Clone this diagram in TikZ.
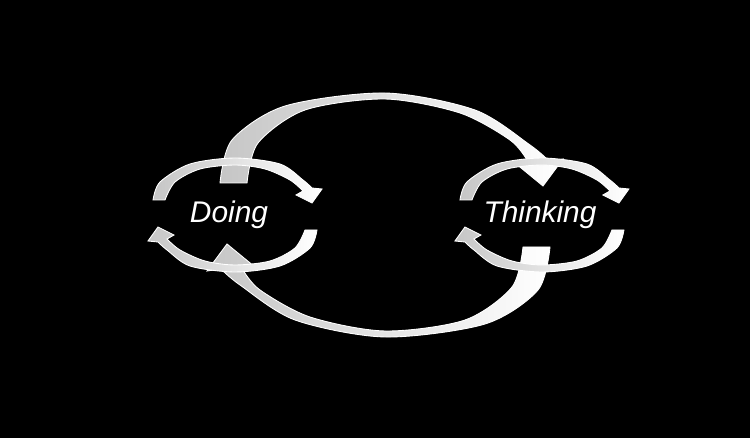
\documentclass[tikz,border=0pt]{standalone}
\usepackage{fontspec}
\setmainfont{Liberation Sans}
\usetikzlibrary{positioning}

% one curved arrow: light grey tail, white head
\newcommand{\bigbend}{%
  \shade[bendarrow] plot[smooth] coordinates {(220,183) (232,140) (285,106) (385,93) (475,110) (530,145) (549,161)}
    -- (563,159) -- (543,186) -- (515,163) -- (527,160)
    -- plot[smooth] coordinates {(527,160) (510,140) (460,113) (385,99) (305,110) (258,143) (247,183)} -- cycle;}
\newcommand{\smallbend}{%
  \shade[bendarrow] plot[smooth] coordinates {(153,200) (160,182) (190,164) (235,158) (280,164) (303,180) (312,188)}
    -- (322,189) -- (312,203) -- (296,195) -- (303,191)
    -- plot[smooth] coordinates {(303,191) (290,180) (265,169) (235,165) (200,169) (175,182) (165,200)} -- cycle;}

\begin{document}
\begin{tikzpicture}[x=0.02cm, y=-0.02cm,
    bendarrow/.style={left color=gray!45, right color=white, draw=white, line width=0.5pt},
    word/.style={text=white, font=\fontsize{17}{20}\selectfont\itshape}
]
    \fill[black] (0,0) rectangle (750,438);

    % large cycle
    \bigbend
    \begin{scope}[rotate around={180:(385,215)}]
        \bigbend
    \end{scope}

    % Doing cycle
    \smallbend
    \begin{scope}[rotate around={180:(235,215)}]
        \smallbend
    \end{scope}

    % Thinking cycle
    \begin{scope}[xshift=6.14cm]
        \smallbend
        \begin{scope}[rotate around={180:(235,215)}]
            \smallbend
        \end{scope}
    \end{scope}

    \node[word] (doing) at (229,215) {Doing};
    \node[word] (thinking) at (540,215) {Thinking};
\end{tikzpicture}
\end{document}
